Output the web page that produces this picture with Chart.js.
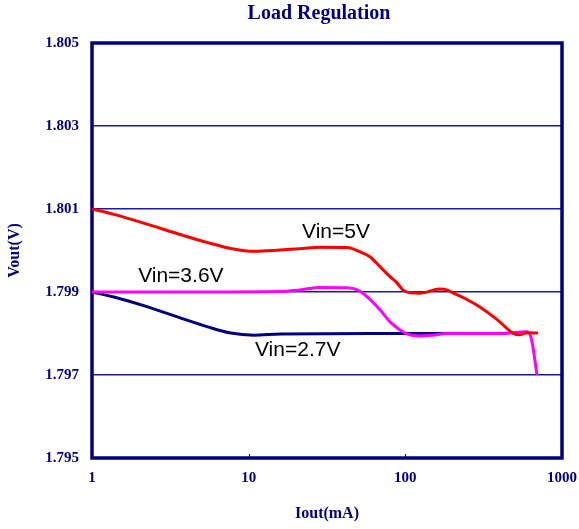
<!DOCTYPE html>
<html>
<head>
<meta charset="utf-8">
<script src="https://cdn.jsdelivr.net/npm/chart.js@4/dist/chart.umd.min.js"></script>
<style>
  html, body { margin: 0; padding: 0; background: #ffffff; }
  #c { display: block; }
</style>
</head>
<body>
<canvas id="c" width="579" height="529"></canvas>
<script>
// ---- data ----
const chartTitle = 'Load Regulation';
const xTickValues = [1, 10, 100, 1000];
const yTickValues = [1.795, 1.797, 1.799, 1.801, 1.803, 1.805];

const vin5X = [1, 1.38, 2.27, 3.69, 5.48, 7.68, 10.8, 15.8, 21.2, 28.5, 42.4, 51.3, 59.4, 68.9, 79.8, 88.4, 96.5, 107, 124, 166, 184, 201, 247, 299, 384, 486, 540, 600, 703];
const vin5Y = [1.80100, 1.80087, 1.80063, 1.80038, 1.80019, 1.80005, 1.79998, 1.80001, 1.80004, 1.80008, 1.80007, 1.79997, 1.79985, 1.79961, 1.79937, 1.79922, 1.79905, 1.79898, 1.79897, 1.79907, 1.79905, 1.79898, 1.79882, 1.79864, 1.79834, 1.79801, 1.79797, 1.79802, 1.79801];

const vin36X = [1, 5, 15.8, 21.2, 28.5, 42.4, 49.3, 56.9, 68.9, 79.8, 93.0, 102, 124, 149, 184, 400, 597, 624, 652, 671, 692];
const vin36Y = [1.79900, 1.79900, 1.79901, 1.79905, 1.79911, 1.79910, 1.79905, 1.79889, 1.79857, 1.79828, 1.79808, 1.79799, 1.79794, 1.79796, 1.79800, 1.79800, 1.79804, 1.79799, 1.79768, 1.79736, 1.79700];

const vin27X = [1, 1.38, 2.27, 3.69, 5.48, 7.68, 10.8, 16, 60, 185];
const vin27Y = [1.79900, 1.79888, 1.79864, 1.79837, 1.79816, 1.79801, 1.79796, 1.79799, 1.79800, 1.79800];

const seriesNames = ['Vin=5V', 'Vin=3.6V', 'Vin=2.7V'];
const labelX = [21.9, 1.97, 10.97];
const labelY = [1.80045, 1.79939, 1.79760];

const NAVY = '#000080';
const GRID = '#1a1aaa';

function pts(xs, ys) { return xs.map((x, i) => ({ x: x, y: ys[i] })); }

const frame = {
  id: 'frame',
  beforeDatasetsDraw(chart) {
    const { ctx, chartArea: a, scales } = chart;
    ctx.save();
    ctx.strokeStyle = NAVY;
    ctx.lineWidth = 3.5;
    ctx.strokeRect(a.left, a.top, a.right - a.left, a.bottom - a.top);
    ctx.lineWidth = 1;
    xTickValues.slice(1, -1).forEach(v => {
      const px = Math.round(scales.x.getPixelForValue(v)) + 0.5;
      ctx.beginPath();
      ctx.moveTo(px, a.bottom);
      ctx.lineTo(px, a.bottom - 4);
      ctx.stroke();
    });
    ctx.restore();
  },
  afterDatasetsDraw(chart) {
    const { ctx, scales, chartArea: a } = chart;
    ctx.save();
    ctx.fillStyle = '#000000';
    ctx.font = '21px "Liberation Sans", Arial, sans-serif';
    ctx.textAlign = 'left';
    ctx.textBaseline = 'middle';
    seriesNames.forEach((t, i) => {
      ctx.fillText(t, scales.x.getPixelForValue(labelX[i]), scales.y.getPixelForValue(labelY[i]));
    });
    // chart title, centred over the plot area
    ctx.fillStyle = NAVY;
    ctx.font = 'bold 20px "Liberation Serif", "Times New Roman", serif';
    ctx.textAlign = 'center';
    ctx.fillText(chartTitle, (a.left + a.right) / 2 - 8, 14);
    ctx.restore();
  }
};

const tickFont = { family: '"Liberation Serif", "Times New Roman", serif', size: 15, weight: 'bold' };
const axisTitleFont = { family: '"Liberation Serif", "Times New Roman", serif', size: 16, weight: 'bold' };

new Chart(document.getElementById('c'), {
  type: 'scatter',
  data: {
    datasets: [
      { label: seriesNames[0], data: pts(vin5X, vin5Y), showLine: true, borderColor: '#ff0000', backgroundColor: '#ff0000', borderWidth: 3, pointRadius: 0, cubicInterpolationMode: 'monotone' },
      { label: seriesNames[1], data: pts(vin36X, vin36Y), showLine: true, borderColor: '#ff00ff', backgroundColor: '#ff00ff', borderWidth: 3, pointRadius: 0, cubicInterpolationMode: 'monotone' },
      { label: seriesNames[2], data: pts(vin27X, vin27Y), showLine: true, borderColor: NAVY, backgroundColor: NAVY, borderWidth: 3, pointRadius: 0, cubicInterpolationMode: 'monotone' }
    ]
  },
  options: {
    responsive: false,
    animation: false,
    events: [],
    layout: { padding: { left: 0, right: 0, top: 43, bottom: 0 } },
    plugins: {
      legend: { display: false },
      tooltip: { enabled: false },
      title: { display: false }
    },
    scales: {
      x: {
        type: 'logarithmic',
        min: 1,
        max: 1000,
        afterBuildTicks(scale) { scale.ticks = xTickValues.map(v => ({ value: v })); },
        afterFit(scale) { scale.height = 71; scale.paddingLeft = 0; scale.paddingRight = 17; },
        ticks: {
          color: NAVY,
          font: tickFont,
          padding: 11,
          maxRotation: 0,
          autoSkip: false,
          callback: v => String(v)
        },
        grid: { display: false, drawTicks: false },
        border: { display: false },
        title: {
          display: true,
          text: 'Iout(mA)',
          color: NAVY,
          font: axisTitleFont,
          padding: { top: 0, bottom: 6 }
        }
      },
      y: {
        min: 1.795,
        max: 1.805,
        afterBuildTicks(scale) { scale.ticks = yTickValues.map(v => ({ value: v })); },
        afterFit(scale) { scale.width = 92; scale.paddingTop = 0; scale.paddingBottom = 0; },
        ticks: {
          color: NAVY,
          font: tickFont,
          padding: 13,
          callback: v => Number(v).toFixed(3)
        },
        grid: { color: GRID, lineWidth: 1.5, drawTicks: false },
        border: { display: false },
        title: {
          display: true,
          text: 'Vout(V)',
          color: NAVY,
          font: axisTitleFont,
          padding: { top: 5, bottom: 0 }
        }
      }
    }
  },
  plugins: [frame]
});
</script>
</body>
</html>
